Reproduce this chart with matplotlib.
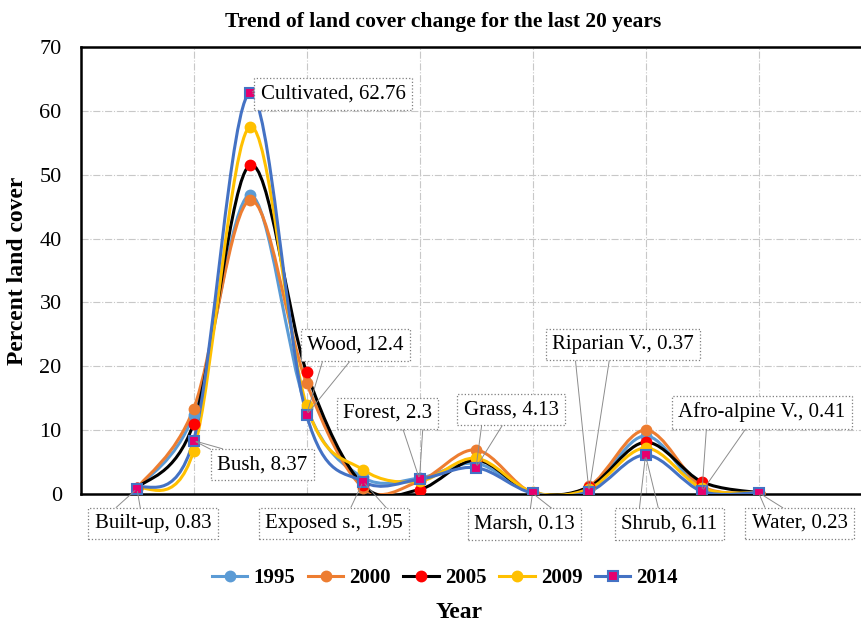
import numpy as np
import matplotlib
matplotlib.use("Agg")
import matplotlib.pyplot as plt
from matplotlib.path import Path
from matplotlib.patches import PathPatch
from matplotlib.lines import Line2D

plt.rcParams['font.family'] = ['Liberation Serif', 'DejaVu Serif']

# land cover classes (x = 1..12)
classes = ['Built-up', 'Bush', 'Cultivated', 'Wood', 'Exposed s.', 'Forest',
           'Grass', 'Marsh', 'Riparian V.', 'Shrub', 'Afro-alpine V.', 'Water']
years = ['1995', '2000', '2005', '2009', '2014']

v1995 = [0.9, 12.4, 46.8, 13.5, 2.6, 2.5, 4.8, 0.2, 0.8, 9.1, 0.7, 0.2]
v2000 = [0.9, 13.3, 46.0, 17.4, 1.0, 2.0, 6.9, 0.2, 1.2, 10.0, 1.2, 0.2]
v2005 = [0.9, 11.0, 51.5, 19.1, 1.4, 0.7, 5.3, 0.2, 1.1, 8.1, 1.9, 0.2]
v2009 = [0.8, 6.7, 57.5, 13.9, 3.8, 2.0, 5.6, 0.3, 0.8, 7.2, 0.9, 0.2]
v2014 = [0.83, 8.37, 62.76, 12.4, 1.95, 2.3, 4.13, 0.13, 0.37, 6.11, 0.41, 0.23]

series = [v1995, v2000, v2005, v2009, v2014]
line_colors = ['#5B9BD5', '#ED7D31', '#000000', '#FFC000', '#4472C4']
marker_face = ['#5B9BD5', '#ED7D31', '#FF0000', '#FFC000', '#E6006E']
marker_edge = ['#5B9BD5', '#ED7D31', '#FF0000', '#FFC000', '#4472C4']
marker_shape = ['o', 'o', 'o', 'o', 's']

# label offsets (pixels) for the 2014 data labels, and where the two leader
# lines leave the label box
label_off = [(16, -35), (69, -24), (83, -1), (49, 70), (-29, -42), (-32, 66),
             (35, 58), (-8, -31), (34, 147), (24, -69), (60, 79), (41, -31)]
leader_rel = [((0.12, 1), (0.4, 1)), ((0.05, 1), (0.3, 1)), ((0, 0.5), (0, 0.9)),
              ((0.18, 0), (0.5, 0)), ((0.6, 1), (0.92, 1)), ((0.65, 0), (0.9, 0)),
              ((0.2, 0), (0.45, 0)), ((0.55, 1), (0.85, 1)), ((0.16, 0), (0.41, 0)),
              ((0.18, 1), (0.4, 1)), ((0.17, 0), (0.43, 0)), ((0.17, 1), (0.43, 1))]


def smooth_path(x, y):
    # Excel-like smoothed line: Catmull-Rom converted to cubic Bezier segments
    pts = np.column_stack([x, y])
    n = len(pts)
    verts = [pts[0]]
    codes = [Path.MOVETO]
    for i in range(n - 1):
        p0 = pts[i - 1] if i > 0 else pts[i]
        p1 = pts[i]
        p2 = pts[i + 1]
        p3 = pts[i + 2] if i + 2 < n else pts[i + 1]
        c1 = p1 + (p2 - p0) / 6.0
        c2 = p2 - (p3 - p1) / 6.0
        verts += [c1, c2, p2]
        codes += [Path.CURVE4] * 3
    return Path(verts, codes)


fig = plt.figure(figsize=(8.61, 6.22), dpi=100)
ax = fig.add_axes([80.5 / 861, 128 / 622, 791 / 861, 447 / 622])

x = np.arange(1, len(classes) + 1)
for vals, lc, mf, me, mk in zip(series, line_colors, marker_face, marker_edge, marker_shape):
    ax.add_patch(PathPatch(smooth_path(x, vals), facecolor='none', edgecolor=lc,
                           lw=2.2, zorder=3))
    ms = 7 if mk == 'o' else 6.5
    ax.plot(x, vals, linestyle='none', marker=mk, ms=ms, mfc=mf, mec=me,
            mew=1.5, zorder=4)

ax.set_xlim(0, 14)
ax.set_ylim(0, 70)
ax.set_yticks(range(0, 71, 10))
ax.set_xticks(range(0, 15, 2))
ax.tick_params(axis='x', length=0, labelbottom=False)
ax.tick_params(axis='y', length=0, labelsize=16, pad=13.5)
ax.grid(True, color='#C8C8C8', linestyle='-.', linewidth=0.8, zorder=0)
for s in ['left', 'bottom', 'top']:
    ax.spines[s].set_linewidth(1.8)
    ax.spines[s].set_color('black')
ax.spines['right'].set_visible(False)

# data labels for 2014 (box + two leader lines each)
box = dict(boxstyle='square,pad=0.3', fc='white', ec='#7F7F7F', ls=':', lw=0.9)
for xi, yi, name, off, rel in zip(x, v2014, classes, label_off, leader_rel):
    txt = f'{name}, {yi:g}'
    ax.annotate(txt, xy=(xi, yi), xytext=off, textcoords='offset pixels',
                ha='center', va='center', fontsize=15, zorder=6, bbox=box,
                arrowprops=dict(arrowstyle='-', color='#8C8C8C', lw=0.7,
                                shrinkA=0, shrinkB=2, relpos=rel[0]))
    ax.annotate(txt, xy=(xi, yi), xytext=off, textcoords='offset pixels',
                ha='center', va='center', fontsize=15, zorder=5, color='none',
                bbox=dict(boxstyle='square,pad=0.3', fc='none', ec='none'),
                arrowprops=dict(arrowstyle='-', color='#8C8C8C', lw=0.7,
                                shrinkA=0, shrinkB=2, relpos=rel[1]))

ax.set_ylabel('Percent land cover', fontsize=17, fontweight='bold', labelpad=8)
fig.text(459 / 861, 1 - 612 / 622, 'Year', ha='center', va='center',
         fontsize=17, fontweight='bold')
fig.text(443 / 861, 1 - 22 / 622, 'Trend of land cover change for the last 20 years',
         ha='center', va='center', fontsize=15.5, fontweight='bold')

handles = [Line2D([], [], color=lc, lw=2.2, marker=mk, ms=7, mfc=mf, mec=me, mew=1.5)
           for lc, mf, me, mk in zip(line_colors, marker_face, marker_edge, marker_shape)]
fig.legend(handles, years, loc='center', bbox_to_anchor=(445 / 861, 1 - 578 / 622),
           ncol=5, frameon=False, prop={'weight': 'bold', 'size': 15},
           handlelength=1.7, handletextpad=0.3, columnspacing=0.6)

fig.savefig('out.png', dpi=100)
